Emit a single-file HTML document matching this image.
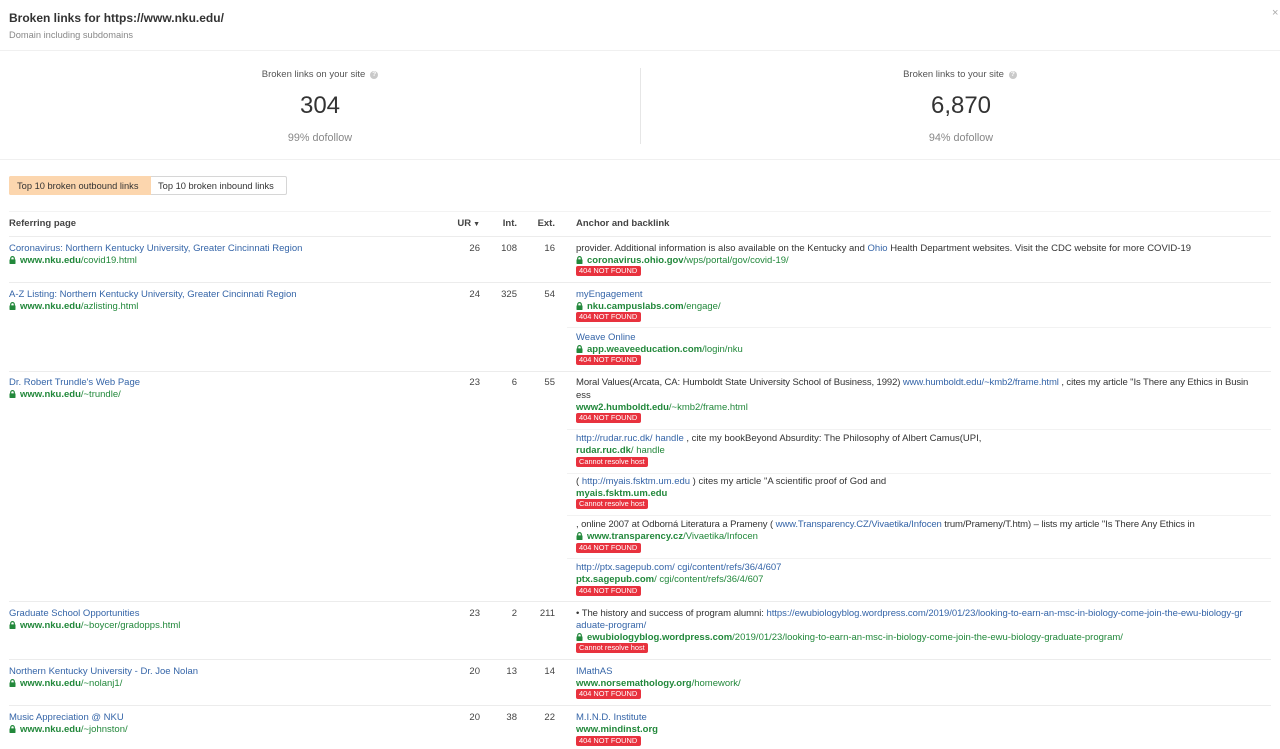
<!DOCTYPE html>
<html><head><meta charset="utf-8">
<style>
*{margin:0;padding:0;box-sizing:border-box}
html,body{width:1280px;height:749px;overflow:hidden;background:#fff}
body{position:relative;font-family:"Liberation Sans",Arial,sans-serif;color:#333}
.a{position:absolute;white-space:nowrap;font-size:9.5px;line-height:12px;height:12px;margin-top:1px}
.b{color:#3565a8}
.g{color:#22883b}
.g b{font-weight:bold}
.n{position:absolute;font-size:9.5px;line-height:12px;text-align:right;width:40px;color:#444;margin-top:1px}
.hl{position:absolute;height:1px;background:#ececec}
.bad{position:absolute;left:576px;height:10px;line-height:10px;font-size:7.4px;color:#fff;background:#e8323e;border-radius:2px;padding-left:3px;white-space:nowrap}
.lk{display:inline-block;width:7px;height:8px;vertical-align:-1px;margin-right:4px}
.q{display:inline-block;width:8px;height:8px;border-radius:50%;background:#c9c9c9;color:#fff;font-size:6.5px;line-height:8px;text-align:center;font-weight:bold;vertical-align:1px;margin-left:5px}
</style></head><body>

<div class="a" style="left:9px;top:10px;height:15px;line-height:15px;font-size:12px;font-weight:bold;color:#333">Broken links for https://www.nku.edu/</div>
<div class="a" style="left:9px;top:28px;font-size:9.3px;color:#888">Domain including subdomains</div>
<div class="a" style="left:1272px;top:6px;font-size:11px;color:#aaa">×</div>

<div class="hl" style="left:0;top:50px;width:1280px;background:#f0f0f0"></div>

<!-- stats -->
<div class="a" style="left:0;width:640px;text-align:center;top:68px;color:#555">Broken links on your site<span class="q">?</span></div>
<div class="a" style="left:0;width:640px;text-align:center;top:90px;height:30px;line-height:30px;font-size:24px;color:#333">304</div>
<div class="a" style="left:0;width:640px;text-align:center;top:130px;height:14px;line-height:14px;font-size:10.8px;color:#888">99% dofollow</div>
<div style="position:absolute;left:640px;top:68px;width:1px;height:76px;background:#e6e6e6"></div>
<div class="a" style="left:640px;width:640px;text-align:center;top:68px;color:#555">Broken links to your site<span class="q">?</span></div>
<div class="a" style="left:640px;width:642px;text-align:center;top:90px;height:30px;line-height:30px;font-size:24px;color:#333">6,870</div>
<div class="a" style="left:640px;width:642px;text-align:center;top:130px;height:14px;line-height:14px;font-size:10.8px;color:#888">94% dofollow</div>

<div class="hl" style="left:0;top:159px;width:1280px;background:#f0f0f0"></div>

<!-- tabs -->
<div style="position:absolute;left:9px;top:176px;width:278px;height:19px;border:1px solid #d6d6d6;border-radius:2px"></div>
<div style="position:absolute;left:9px;top:176px;width:142px;height:19px;background:#fcd6ae;border-radius:2px 0 0 2px"></div>
<div class="a" style="left:17px;top:179px;font-size:9.3px;color:#333">Top 10 broken outbound links</div>
<div class="a" style="left:158px;top:179px;font-size:9.3px;color:#333">Top 10 broken inbound links</div>

<!-- table header -->
<div class="hl" style="left:9px;top:211px;width:1262px;background:#f3f3f3"></div>
<div class="a" style="left:9px;top:217px;font-weight:bold;color:#444">Referring page</div>
<div class="n" style="left:440px;top:217px;font-weight:bold">UR<span style="font-size:7px;margin-left:2px">▼</span></div>
<div class="n" style="left:477px;top:217px;font-weight:bold">Int.</div>
<div class="n" style="left:515px;top:217px;font-weight:bold">Ext.</div>
<div class="a" style="left:576px;top:217px;font-weight:bold;color:#444">Anchor and backlink</div>
<div class="hl" style="left:9px;top:236px;width:1262px"></div>

<svg width="0" height="0" style="position:absolute"><defs><symbol id="lock" viewBox="0 0 7 8"><path d="M1.7 3.6V2.4a1.8 1.8 0 0 1 3.6 0v1.2" fill="none" stroke="#22883b" stroke-width="1.2"/><rect x="0.5" y="3.4" width="6" height="4.6" rx="0.6" fill="#22883b"/></symbol></defs></svg>

<!-- Row 1 -->
<div class="a b" style="left:9px;top:242px">Coronavirus: Northern Kentucky University, Greater Cincinnati Region</div>
<div class="a g" style="left:9px;top:254px"><svg class="lk"><use href="#lock"/></svg><b>www.nku.edu</b>/covid19.html</div>
<div class="n" style="left:440px;top:242px">26</div>
<div class="n" style="left:477px;top:242px">108</div>
<div class="n" style="left:515px;top:242px">16</div>
<div class="a" style="left:576px;top:242px">provider. Additional information is also available on the Kentucky and <span class="b">Ohio</span> Health Department websites. Visit the CDC website for more COVID-19</div>
<div class="a g" style="left:576px;top:254px"><svg class="lk"><use href="#lock"/></svg><b>coronavirus.ohio.gov</b>/wps/portal/gov/covid-19/</div>
<div class="bad" style="top:266px;width:65px">404 NOT FOUND</div>
<div class="hl" style="left:9px;top:282px;width:1262px"></div>

<!-- Row 2 -->
<div class="a b" style="left:9px;top:288px">A-Z Listing: Northern Kentucky University, Greater Cincinnati Region</div>
<div class="a g" style="left:9px;top:300px"><svg class="lk"><use href="#lock"/></svg><b>www.nku.edu</b>/azlisting.html</div>
<div class="n" style="left:440px;top:288px">24</div>
<div class="n" style="left:477px;top:288px">325</div>
<div class="n" style="left:515px;top:288px">54</div>
<div class="a b" style="left:576px;top:288px">myEngagement</div>
<div class="a g" style="left:576px;top:300px"><svg class="lk"><use href="#lock"/></svg><b>nku.campuslabs.com</b>/engage/</div>
<div class="bad" style="top:312px;width:65px">404 NOT FOUND</div>
<div class="hl" style="left:567px;top:327px;width:704px;background:#f2f2f2"></div>
<div class="a b" style="left:576px;top:331px">Weave Online</div>
<div class="a g" style="left:576px;top:343px"><svg class="lk"><use href="#lock"/></svg><b>app.weaveeducation.com</b>/login/nku</div>
<div class="bad" style="top:355px;width:65px">404 NOT FOUND</div>
<div class="hl" style="left:9px;top:371px;width:1262px"></div>

<!-- Row 3 -->
<div class="a b" style="left:9px;top:376px">Dr. Robert Trundle's Web Page</div>
<div class="a g" style="left:9px;top:388px"><svg class="lk"><use href="#lock"/></svg><b>www.nku.edu</b>/~trundle/</div>
<div class="n" style="left:440px;top:376px">23</div>
<div class="n" style="left:477px;top:376px">6</div>
<div class="n" style="left:515px;top:376px">55</div>
<div class="a" style="left:576px;top:376px;letter-spacing:-0.1px">Moral Values(Arcata, CA: Humboldt State University School of Business, 1992) <span class="b">www.humboldt.edu/~kmb2/frame.html</span> , cites my article "Is There any Ethics in Busin</div>
<div class="a" style="left:576px;top:389px">ess</div>
<div class="a g" style="left:576px;top:401px"><b>www2.humboldt.edu</b>/~kmb2/frame.html</div>
<div class="bad" style="top:413px;width:65px">404 NOT FOUND</div>
<div class="hl" style="left:567px;top:429px;width:704px;background:#f2f2f2"></div>
<div class="a" style="left:576px;top:432px"><span class="b">http://rudar.ruc.dk/ handle</span> , cite my bookBeyond Absurdity: The Philosophy of Albert Camus(UPI,</div>
<div class="a g" style="left:576px;top:444px"><b>rudar.ruc.dk</b>/ handle</div>
<div class="bad" style="top:457px;width:72px">Cannot resolve host</div>
<div class="hl" style="left:567px;top:473px;width:704px;background:#f2f2f2"></div>
<div class="a" style="left:576px;top:475px">( <span class="b">http://myais.fsktm.um.edu</span> ) cites my article "A scientific proof of God and</div>
<div class="a g" style="left:576px;top:487px"><b>myais.fsktm.um.edu</b></div>
<div class="bad" style="top:499px;width:72px">Cannot resolve host</div>
<div class="hl" style="left:567px;top:515px;width:704px;background:#f2f2f2"></div>
<div class="a" style="left:576px;top:518px;letter-spacing:-0.1px">, online 2007 at Odborná Literatura a Prameny ( <span class="b">www.Transparency.CZ/Vivaetika/Infocen</span> trum/Prameny/T.htm) – lists my article "Is There Any Ethics in</div>
<div class="a g" style="left:576px;top:530px"><svg class="lk"><use href="#lock"/></svg><b>www.transparency.cz</b>/Vivaetika/Infocen</div>
<div class="bad" style="top:543px;width:65px">404 NOT FOUND</div>
<div class="hl" style="left:567px;top:558px;width:704px;background:#f2f2f2"></div>
<div class="a b" style="left:576px;top:561px">http://ptx.sagepub.com/ cgi/content/refs/36/4/607</div>
<div class="a g" style="left:576px;top:573px"><b>ptx.sagepub.com</b>/ cgi/content/refs/36/4/607</div>
<div class="bad" style="top:586px;width:65px">404 NOT FOUND</div>
<div class="hl" style="left:9px;top:601px;width:1262px"></div>

<!-- Row 4 -->
<div class="a b" style="left:9px;top:607px">Graduate School Opportunities</div>
<div class="a g" style="left:9px;top:619px"><svg class="lk"><use href="#lock"/></svg><b>www.nku.edu</b>/~boycer/gradopps.html</div>
<div class="n" style="left:440px;top:607px">23</div>
<div class="n" style="left:477px;top:607px">2</div>
<div class="n" style="left:515px;top:607px">211</div>
<div class="a" style="left:576px;top:607px;letter-spacing:-0.05px">• The history and success of program alumni: <span class="b">https://ewubiologyblog.wordpress.com/2019/01/23/looking-to-earn-an-msc-in-biology-come-join-the-ewu-biology-gr</span></div>
<div class="a b" style="left:576px;top:619px">aduate-program/</div>
<div class="a g" style="left:576px;top:631px"><svg class="lk"><use href="#lock"/></svg><b>ewubiologyblog.wordpress.com</b>/2019/01/23/looking-to-earn-an-msc-in-biology-come-join-the-ewu-biology-graduate-program/</div>
<div class="bad" style="top:643px;width:72px">Cannot resolve host</div>
<div class="hl" style="left:9px;top:659px;width:1262px"></div>

<!-- Row 5 -->
<div class="a b" style="left:9px;top:665px">Northern Kentucky University - Dr. Joe Nolan</div>
<div class="a g" style="left:9px;top:677px"><svg class="lk"><use href="#lock"/></svg><b>www.nku.edu</b>/~nolanj1/</div>
<div class="n" style="left:440px;top:665px">20</div>
<div class="n" style="left:477px;top:665px">13</div>
<div class="n" style="left:515px;top:665px">14</div>
<div class="a b" style="left:576px;top:665px">IMathAS</div>
<div class="a g" style="left:576px;top:677px"><b>www.norsemathology.org</b>/homework/</div>
<div class="bad" style="top:689px;width:65px">404 NOT FOUND</div>
<div class="hl" style="left:9px;top:705px;width:1262px"></div>

<!-- Row 6 -->
<div class="a b" style="left:9px;top:711px">Music Appreciation @ NKU</div>
<div class="a g" style="left:9px;top:723px"><svg class="lk"><use href="#lock"/></svg><b>www.nku.edu</b>/~johnston/</div>
<div class="n" style="left:440px;top:711px">20</div>
<div class="n" style="left:477px;top:711px">38</div>
<div class="n" style="left:515px;top:711px">22</div>
<div class="a b" style="left:576px;top:711px">M.I.N.D. Institute</div>
<div class="a g" style="left:576px;top:723px"><b>www.mindinst.org</b></div>
<div class="bad" style="top:736px;width:65px">404 NOT FOUND</div>

</body></html>
